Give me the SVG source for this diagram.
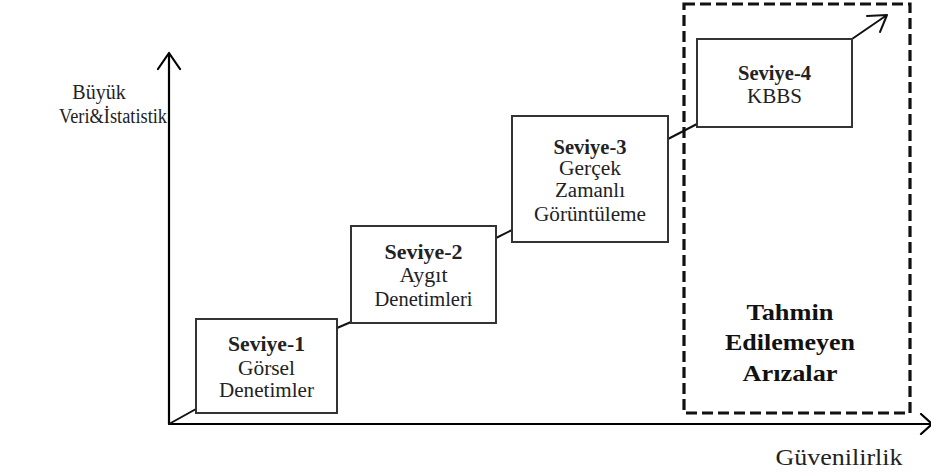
<svg xmlns="http://www.w3.org/2000/svg" width="931" height="472" viewBox="0 0 931 472">
<style>
.box{fill:#fff;stroke:#333;stroke-width:2}
.ln{fill:none;stroke:#111;stroke-width:2;stroke-linecap:round;stroke-linejoin:round}
.ax{fill:none;stroke:#000;stroke-width:2.2;stroke-linecap:round;stroke-linejoin:round}
text{font-family:'Liberation Serif','DejaVu Serif',serif;fill:#222;text-anchor:middle}
.t{font-size:20px}
.b{font-weight:bold}
.big{font-size:24px;font-weight:bold;fill:#111}
.lab{font-size:24px}
.ylab{font-size:20px}
</style>
<rect width="931" height="472" fill="#fff"/>
<g id="axes">
<path class="ax" d="M169,424 V53 M158,69 L169,53 L180,69"/>
<path class="ax" d="M169,424 H931 M921,414 L932,424 L921,434"/>
<text class="ylab" x="99" y="99">Büyük</text>
<text class="ylab" x="113" y="123" textLength="108" lengthAdjust="spacingAndGlyphs">Veri&amp;İstatistik</text>
<text class="lab" x="839" y="465" textLength="127" lengthAdjust="spacingAndGlyphs">Güvenilirlik</text>
</g>
<g id="region">
<rect x="684" y="4" width="226" height="409" fill="none" stroke="#111" stroke-width="3.2" stroke-dasharray="11,5"/>
<text class="big" x="790" y="320" textLength="87" lengthAdjust="spacingAndGlyphs">Tahmin</text>
<text class="big" x="790" y="350" textLength="130" lengthAdjust="spacingAndGlyphs">Edilemeyen</text>
<text class="big" x="790" y="381" textLength="95" lengthAdjust="spacingAndGlyphs">Arızalar</text>
</g>
<g id="connectors">
<path class="ln" d="M169,424 L196,409"/>
<path class="ln" d="M337,328 L351,322"/>
<path class="ln" d="M496,238 L512,230"/>
<path class="ln" d="M668,139 L697,124"/>
<path class="ln" d="M852,39 L887,15 M867,16 L887,15 L880,32"/>
</g>
<g id="level1">
<rect class="box" x="196" y="319" width="141" height="94"/>
<text class="t b" x="266.5" y="351" textLength="77" lengthAdjust="spacingAndGlyphs">Seviye-1</text>
<text class="t" x="266.5" y="375" textLength="57" lengthAdjust="spacingAndGlyphs">Görsel</text>
<text class="t" x="266.5" y="397" textLength="95" lengthAdjust="spacingAndGlyphs">Denetimler</text>
</g>
<g id="level2">
<rect class="box" x="351" y="226" width="145" height="97"/>
<text class="t b" x="423.5" y="259" textLength="78" lengthAdjust="spacingAndGlyphs">Seviye-2</text>
<text class="t" x="423.5" y="282" textLength="48" lengthAdjust="spacingAndGlyphs">Aygıt</text>
<text class="t" x="423.5" y="306" textLength="98" lengthAdjust="spacingAndGlyphs">Denetimleri</text>
</g>
<g id="level3">
<rect class="box" x="512" y="116" width="156" height="126"/>
<text class="t b" x="590" y="154" textLength="73" lengthAdjust="spacingAndGlyphs">Seviye-3</text>
<text class="t" x="590" y="175" textLength="62" lengthAdjust="spacingAndGlyphs">Gerçek</text>
<text class="t" x="590" y="197" textLength="70" lengthAdjust="spacingAndGlyphs">Zamanlı</text>
<text class="t" x="590" y="221" textLength="112" lengthAdjust="spacingAndGlyphs">Görüntüleme</text>
</g>
<g id="level4">
<rect class="box" x="697" y="39" width="155" height="88"/>
<text class="t b" x="774.5" y="80" textLength="73" lengthAdjust="spacingAndGlyphs">Seviye-4</text>
<text class="t" x="774.5" y="103" textLength="55" lengthAdjust="spacingAndGlyphs">KBBS</text>
</g>
</svg>
